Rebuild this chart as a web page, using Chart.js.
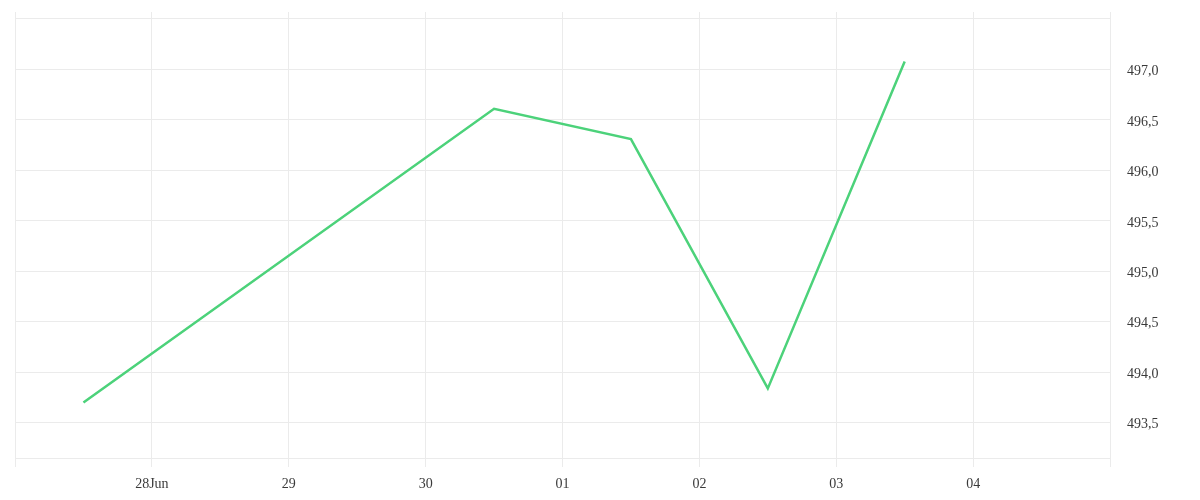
<!DOCTYPE html>
<html>
<head>
<meta charset="utf-8">
<script src="https://cdn.jsdelivr.net/npm/chart.js@4/dist/chart.umd.min.js"></script>
<style>
  html, body { margin: 0; padding: 0; background: #fff; }
  #wrap { width: 1200px; height: 500px; }
</style>
</head>
<body>
<div id="wrap"><canvas id="priceChart"></canvas></div>
<script>
// Days counted from 27 Jun 00:00; points sit at midday
const dayOffsets = [0.5, 3.5, 4.5, 5.5, 6.5];
const prices = [493.70, 496.61, 496.31, 493.84, 497.08];

// x ticks at day boundaries (0 and 8 are the plot edges, unlabeled)
const xTicks = [0, 1, 2, 3, 4, 5, 6, 7, 8];
const xTickLabels = ['', '28Jun', '29', '30', '01', '02', '03', '04', ''];

// y ticks; first and last are the plot edges, unlabeled
const yTicks = [493.15, 493.5, 494.0, 494.5, 495.0, 495.5, 496.0, 496.5, 497.0, 497.51];

const GRID = '#ebebeb';
const TEXT = '#3a3a3a';
const LINE = '#4cd27a';
const FONT = { family: '"Liberation Serif", "DejaVu Serif", serif', size: 14 };

const isHalfStep = v => Math.abs(v * 2 - Math.round(v * 2)) < 1e-6;

new Chart(document.getElementById('priceChart'), {
  type: 'line',
  data: {
    datasets: [{
      label: 'Price',
      data: dayOffsets.map((d, i) => ({ x: d, y: prices[i] })),
      borderColor: LINE,
      borderWidth: 2.5,
      pointRadius: 0,
      tension: 0,
      fill: false,
    }],
  },
  options: {
    responsive: true,
    maintainAspectRatio: false,
    animation: false,
    layout: { padding: { top: 12, left: 15, bottom: 7, right: 0 } },
    plugins: { legend: { display: false }, tooltip: { enabled: false } },
    scales: {
      x: {
        type: 'linear',
        position: 'bottom',
        min: 0,
        max: 8,
        afterBuildTicks: s => { s.ticks = xTicks.map(v => ({ value: v })); },
        afterFit: s => { s.height = 35; s.paddingLeft = 0; s.paddingRight = 0; },
        grid: { color: GRID, tickColor: GRID, tickLength: 9 },
        border: { display: false },
        ticks: {
          color: TEXT,
          font: FONT,
          padding: 9,
          maxRotation: 0,
          autoSkip: false,
          callback: v => xTickLabels[xTicks.indexOf(v)] ?? '',
        },
      },
      xTop: {
        type: 'linear',
        position: 'top',
        min: 0,
        max: 8,
        afterBuildTicks: s => { s.ticks = xTicks.map(v => ({ value: v })); },
        grid: { drawOnChartArea: false, color: GRID, tickColor: GRID, tickLength: 6 },
        border: { display: false },
        ticks: { display: false },
      },
      y: {
        type: 'linear',
        position: 'right',
        min: yTicks[0],
        max: yTicks[yTicks.length - 1],
        afterBuildTicks: s => { s.ticks = yTicks.map(v => ({ value: v })); },
        afterFit: s => { s.width = 90; s.paddingTop = 0; s.paddingBottom = 0; },
        grid: { color: GRID, drawTicks: false },
        border: { display: false },
        ticks: {
          color: TEXT,
          font: FONT,
          padding: 17,
          labelOffset: 2,
          callback: v => isHalfStep(v) ? v.toFixed(1).replace('.', ',') : '',
        },
      },
    },
  },
});
</script>
</body>
</html>
